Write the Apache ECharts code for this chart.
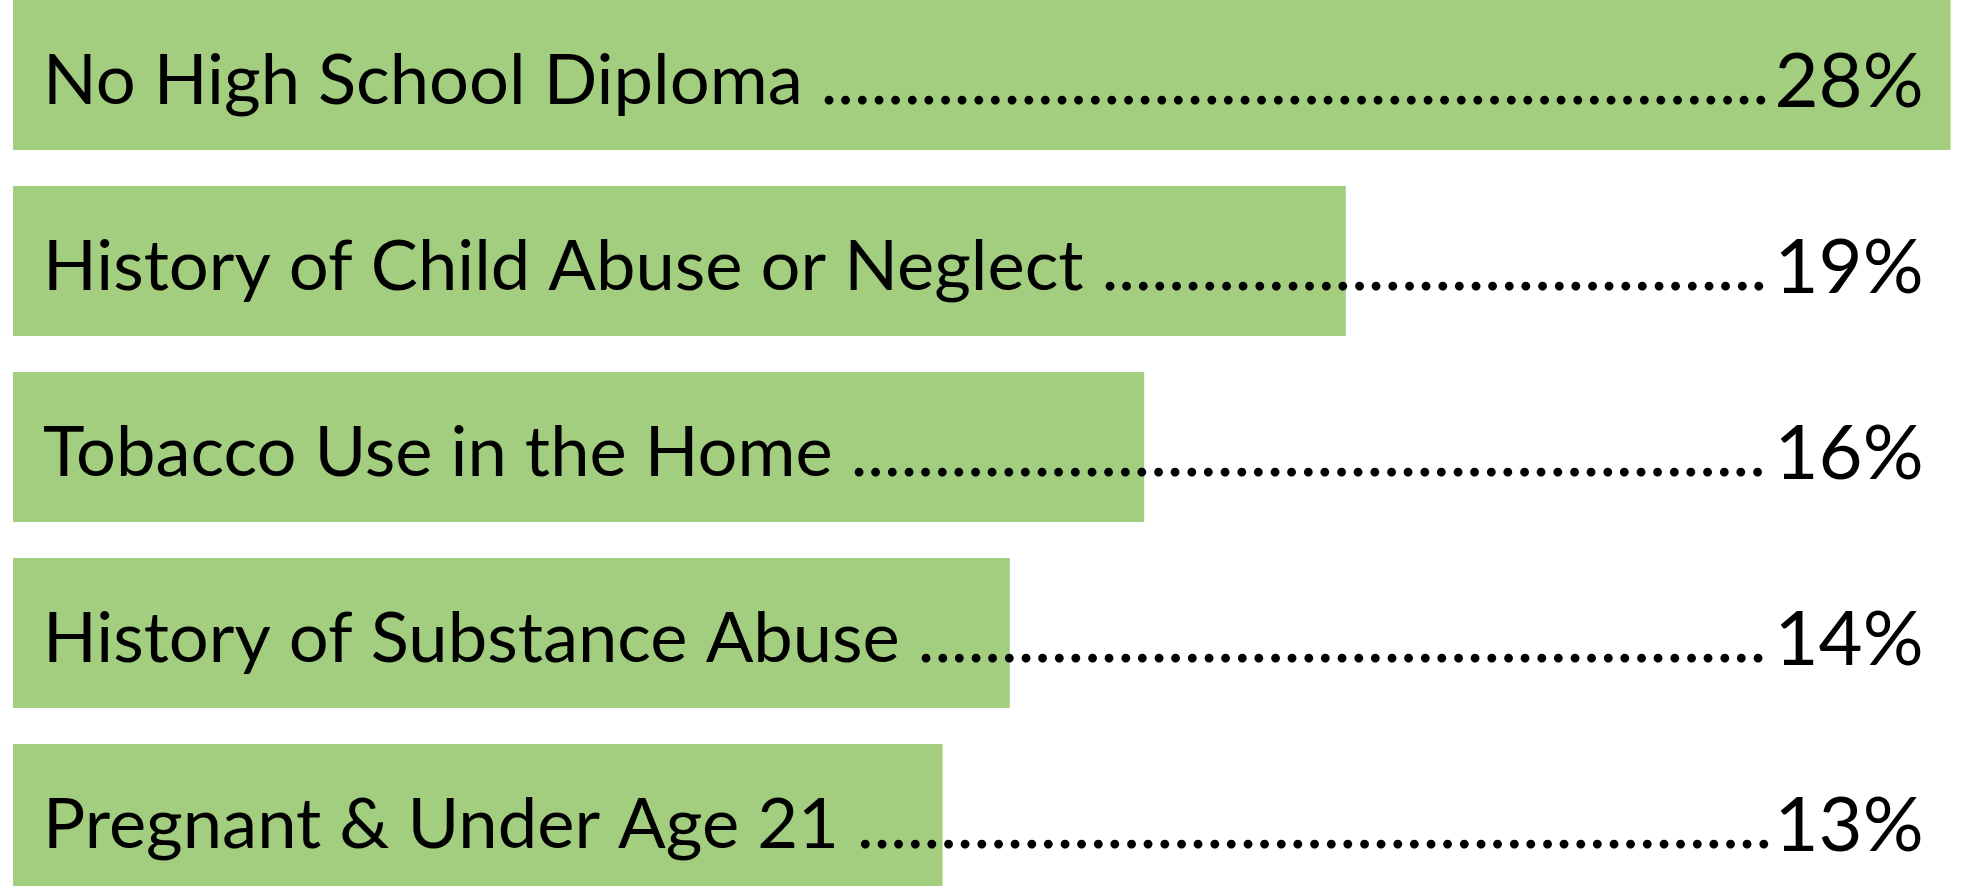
<!DOCTYPE html>
<html>
<head>
<meta charset="UTF-8">
<title>Risk Factors</title>
<script src="https://cdn.jsdelivr.net/npm/echarts@6.0.0/dist/echarts.min.js"></script>
<style>
  html, body { margin: 0; padding: 0; background: #fff; }
  #chart { width: 1982px; height: 886px; }
</style>
</head>
<body>
<div id="chart"></div>
<script>
var categories = [
    'No High School Diploma',
    'History of Child Abuse or Neglect',
    'Tobacco Use in the Home',
    'History of Substance Abuse',
    'Pregnant & Under Age 21'
];
var values = [28, 19, 16, 14, 13];

var barColor = '#A3CE7F';
var nameFont = '70.5px Lato';
var axisStart = -5 / 6;   // the bars in the original start a little left of zero

// dotted leaders are just periods, counted so they end at the same spot
var ctx = document.createElement('canvas').getContext('2d');
ctx.font = nameFont;
function textWidth(s) { return ctx.measureText(s).width; }
var gridLeft = 13;
var labelLeft = 43;
var leaderEnd = 1778;
function withLeader(name) {
    var room = leaderEnd - labelLeft - textWidth(name + ' ');
    var n = Math.max(0, Math.floor(room / textWidth('.')));
    return name + ' ' + new Array(n + 1).join('.');
}

var chart = echarts.init(document.getElementById('chart'));
chart.setOption({
    animation: false,
    grid: { left: gridLeft, right: 31.4, top: -18, bottom: -26, outerBoundsMode: 'none' },
    xAxis: { type: 'value', min: axisStart, max: 28, show: false },
    yAxis: [
        {
            type: 'category', data: categories, inverse: true, z: 10,
            axisLine: { show: false }, axisTick: { show: false },
            axisLabel: {
                inside: true, interval: 0, margin: labelLeft - gridLeft,
                fontFamily: 'Lato', fontSize: 70.5, color: '#000',
                verticalAlign: 'top', lineHeight: 12,
                formatter: function (v) { return withLeader(v); }
            }
        },
        {
            type: 'category', data: categories, inverse: true, position: 'right', z: 10,
            axisLine: { show: false }, axisTick: { show: false },
            axisLabel: {
                inside: true, interval: 0, margin: 27,
                fontFamily: 'Lato', fontSize: 76, color: '#000',
                verticalAlign: 'top', lineHeight: 15,
                formatter: function (v, i) { return values[i] + '%'; }
            }
        }
    ],
    series: [
        {
            type: 'bar', stack: 'all', barWidth: 150, silent: true,
            itemStyle: { color: barColor },
            data: categories.map(function () { return axisStart; })
        },
        {
            type: 'bar', stack: 'all', barWidth: 150,
            itemStyle: { color: barColor },
            data: values
        }
    ]
});
</script>
</body>
</html>
